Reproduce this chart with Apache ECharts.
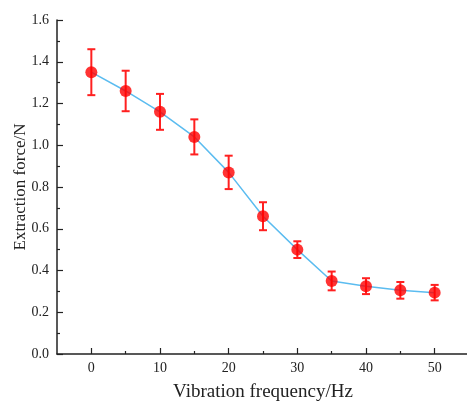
<!DOCTYPE html>
<html><head><meta charset="utf-8">
<script src="https://cdn.jsdelivr.net/npm/echarts@6/dist/echarts.min.js"></script>
<style>html,body{margin:0;padding:0;background:#fff}#c{width:467px;height:401px}</style>
</head><body><div id="c"></div>
<script>
var frequencies = [0, 5, 10, 15, 20, 25, 30, 35, 40, 45, 50];
var forces = [1.35, 1.26, 1.16, 1.04, 0.87, 0.66, 0.50, 0.35, 0.325, 0.305, 0.294];
var errors = [0.11, 0.097, 0.086, 0.084, 0.08, 0.067, 0.04, 0.045, 0.038, 0.04, 0.037];
var xMajorTicks = [0, 10, 20, 30, 40, 50];
var xMinorTicks = [5, 15, 25, 35, 45];

var font = 'Liberation Serif';
var pts = frequencies.map(function (f, i) { return [f, forces[i]]; });
var errData = frequencies.map(function (f, i) { return [f, forces[i] - errors[i], forces[i] + errors[i]]; });

var chart = echarts.init(document.getElementById('c'));
chart.setOption({
  animation: false,
  grid: { left: 57, right: -2, top: 20, bottom: 47, containLabel: false, outerBoundsMode: 'none' },
  xAxis: [{
    type: 'value', min: -5, max: 55, interval: 5,
    name: 'Vibration frequency/Hz', nameLocation: 'middle', nameGap: 29, nameMoveOverlap: false,
    nameTextStyle: { fontFamily: font, fontSize: 19, color: '#222' },
    axisLine: { show: true, onZero: false, lineStyle: { color: '#222', width: 1.5 } },
    axisTick: { show: true, inside: true, length: 6, customValues: xMajorTicks, lineStyle: { color: '#222', width: 1.2 } },
    axisLabel: { fontFamily: font, fontSize: 14, color: '#222', margin: 7, customValues: xMajorTicks },
    splitLine: { show: false }
  }, {
    type: 'value', min: -5, max: 55, interval: 5, position: 'bottom',
    axisLine: { show: false, onZero: false },
    axisTick: { show: true, inside: true, length: 3, customValues: xMinorTicks, lineStyle: { color: '#222', width: 1.2 } },
    axisLabel: { show: false },
    splitLine: { show: false }
  }],
  yAxis: {
    type: 'value', min: 0, max: 1.6, interval: 0.2,
    name: 'Extraction force/N', nameLocation: 'middle', nameGap: 28, nameMoveOverlap: false,
    nameTextStyle: { fontFamily: font, fontSize: 17, color: '#222' },
    axisLine: { show: true, onZero: false, lineStyle: { color: '#222', width: 1.5 } },
    axisTick: { show: true, inside: true, length: 6, lineStyle: { color: '#222', width: 1.2 } },
    minorTick: { show: true, splitNumber: 2, length: 3, lineStyle: { color: '#222', width: 1.2 } },
    axisLabel: { fontFamily: font, fontSize: 14, color: '#222', margin: 8,
      formatter: function (v) { return v.toFixed(1); } },
    splitLine: { show: false }
  },
  series: [
    {
      type: 'line', data: pts, symbol: 'none',
      lineStyle: { color: '#5bbcf0', width: 1.5 }, z: 2
    },
    {
      type: 'custom', z: 3,
      renderItem: function (params, api) {
        var x = api.value(0);
        var lo = api.coord([x, api.value(1)]);
        var hi = api.coord([x, api.value(2)]);
        var w = 4;
        var st = { stroke: '#ff2020', lineWidth: 2 };
        return { type: 'group', children: [
          { type: 'line', shape: { x1: lo[0], y1: lo[1], x2: hi[0], y2: hi[1] }, style: st },
          { type: 'line', shape: { x1: lo[0] - w, y1: lo[1], x2: lo[0] + w, y2: lo[1] }, style: st },
          { type: 'line', shape: { x1: hi[0] - w, y1: hi[1], x2: hi[0] + w, y2: hi[1] }, style: st }
        ] };
      },
      data: errData
    },
    {
      type: 'scatter', data: pts, symbol: 'circle', symbolSize: 12,
      itemStyle: { color: '#ff0000' }, z: 4
    }
  ]
});
</script></body></html>
